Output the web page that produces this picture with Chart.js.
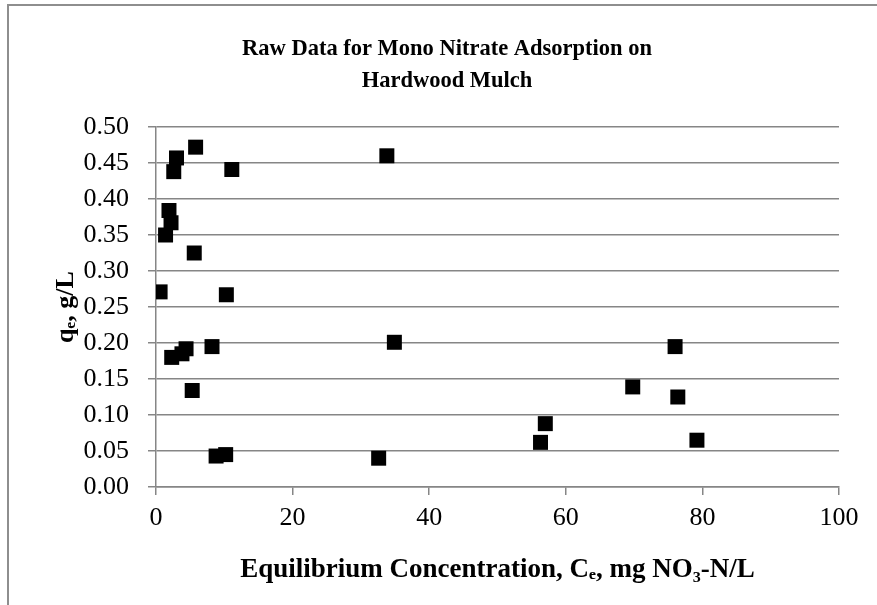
<!DOCTYPE html>
<html>
<head>
<meta charset="utf-8">
<script src="https://cdn.jsdelivr.net/npm/chart.js@4"></script>
<style>
  html, body { margin: 0; padding: 0; background: #fff; overflow: hidden; }
  #wrap { position: relative; width: 877px; height: 605px; }
  #frame {
    position: absolute; left: 7px; top: 4px; width: 1000px; height: 1000px;
    border-left: 2px solid #8e8e8e; border-top: 2px solid #8e8e8e;
  }
  #chart { position: absolute; left: 0; top: 0; }
</style>
</head>
<body>
<div id="wrap">
  <div id="frame"></div>
  <canvas id="chart" width="877" height="605"></canvas>
</div>
<script>
// equilibrium concentration (mg NO3-N/L) and uptake q_e (g/L)
const ce = [5.8, 3.0, 2.6, 11.1, 33.8, 1.9, 2.2, 1.4, 5.6, 0.6, 10.3, 4.4, 3.8,
  2.3, 8.2, 34.9, 5.3, 8.8, 10.2, 32.6, 69.8, 76.4, 57.0, 56.3, 79.2, 76.0];
const qe = [0.472, 0.457, 0.438, 0.441, 0.460, 0.384, 0.367, 0.350, 0.325, 0.271,
  0.267, 0.192, 0.185, 0.180, 0.195, 0.201, 0.134, 0.043, 0.045, 0.040, 0.139,
  0.125, 0.088, 0.062, 0.065, 0.195];

const titleLines = ["Raw Data for Mono Nitrate Adsorption on", "Hardwood Mulch"];
const xTitle = "Equilibrium Concentration, C\u2091, mg NO\u2083-N/L";
const yTitle = "q\u2091, g/L";

document.addEventListener("DOMContentLoaded", () => {
  const canvas = document.getElementById("chart");
  const serif = "'Liberation Serif', 'DejaVu Serif', serif";
  const grey = "#868686";

  const points = ce.map((x, i) => ({ x: x, y: qe[i] }));

  new Chart(canvas, {
    type: "scatter",
    data: {
      datasets: [
        {
          label: "q_e",
          data: points,
          pointStyle: "rect",
          pointRadius: 10.6,
          pointHoverRadius: 10.6,
          backgroundColor: "#000",
          borderColor: "#000",
          borderWidth: 0
        }
      ]
    },
    options: {
      responsive: false,
      animation: false,
      devicePixelRatio: 1,
      // left padding of 17 puts the title centre where the frame centre is
      layout: { padding: { left: 17, right: 0, top: 0, bottom: 0 } },
      plugins: {
        legend: { display: false },
        tooltip: { enabled: false },
        title: {
          display: true,
          text: titleLines,
          color: "#000",
          font: { family: serif, size: 22.5, weight: "bold", lineHeight: 32 / 22.5 },
          padding: { top: 33, bottom: 30 }
        }
      },
      scales: {
        x: {
          type: "linear",
          min: 0,
          max: 100,
          afterFit: (s) => { s.height = 118; },
          ticks: {
            stepSize: 20,
            color: "#000",
            padding: 8,
            font: { family: serif, size: 26 }
          },
          grid: {
            drawOnChartArea: false,
            drawTicks: true,
            tickLength: 8,
            color: grey,
            lineWidth: 1.5
          },
          border: { display: true, color: grey, width: 1.5 },
          title: {
            display: true,
            text: xTitle,
            color: "#000",
            font: { family: serif, size: 27, weight: "bold", lineHeight: 1.2 },
            padding: { top: 0, bottom: 19 }
          }
        },
        y: {
          type: "linear",
          min: 0,
          max: 0.5,
          afterFit: (s) => { s.width = 139; },
          ticks: {
            stepSize: 0.05,
            color: "#000",
            padding: 19,
            font: { family: serif, size: 26 },
            callback: (v) => v.toFixed(2)
          },
          grid: {
            drawOnChartArea: true,
            drawTicks: true,
            tickLength: 8,
            color: grey,
            lineWidth: 1.5
          },
          border: { display: true, color: grey, width: 1.5 },
          title: {
            display: true,
            text: yTitle,
            color: "#000",
            font: { family: serif, size: 26, weight: "bold", lineHeight: 1.2 },
            padding: { top: 34, bottom: 0 }
          }
        },
        // empty spacer on the right so the plot ends at x = 839
        spacer: {
          type: "linear",
          position: "right",
          display: true,
          afterFit: (s) => { s.width = 38; },
          ticks: { display: false },
          grid: { display: false },
          border: { display: false }
        }
      }
    }
  });
});
</script>
</body>
</html>
